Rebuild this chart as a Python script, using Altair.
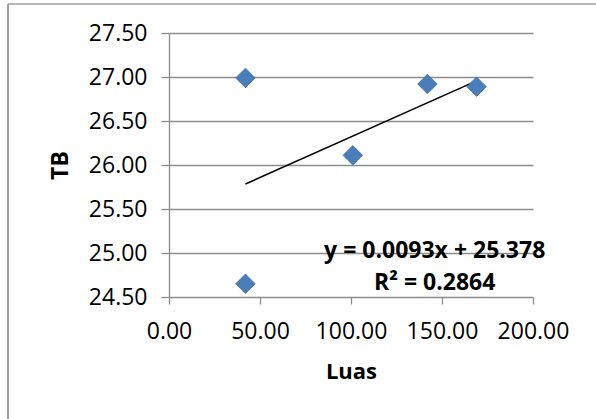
import altair as alt
import pandas as pd

# Data
luas = [42.0, 42.0, 101.0, 142.0, 169.0]
tb = [26.99, 24.65, 26.11, 26.92, 26.89]

x_ticks = [0, 50, 100, 150, 200]
y_ticks = [24.5, 25.0, 25.5, 26.0, 26.5, 27.0, 27.5]

eq_lines = ["y = 0.0093x + 25.378", "R² = 0.2864"]
eq_x = [146.0, 146.0]
eq_y = [25.02, 24.66]

FONT = "Open Sans"
GRID = "#8c8c8c"

df = pd.DataFrame({"Luas": luas, "TB": tb})
eq_df = pd.DataFrame({"label": eq_lines, "x": eq_x, "y": eq_y})

xscale = alt.Scale(domain=[0, 200], nice=False, zero=False)
yscale = alt.Scale(domain=[24.5, 27.5], nice=False, zero=False)

xaxis = alt.Axis(values=x_ticks, format=".2f", grid=False, domain=False,
                 tickColor=GRID, tickSize=7, tickWidth=1.3,
                 labelFont=FONT, labelFontSize=23, labelColor="black",
                 labelPadding=16, labelOverlap=False, labelBound=False,
                 labelFlush=False,
                 title="Luas", titleFont=FONT,
                 titleFontSize=22, titleFontWeight="bold", titleColor="black",
                 titlePadding=18)
yaxis = alt.Axis(values=y_ticks, format=".2f", grid=True, gridColor=GRID,
                 gridWidth=1.3, domainColor=GRID, domainWidth=1.3,
                 tickColor=GRID, tickSize=8, tickWidth=1.3,
                 labelFont=FONT, labelFontSize=23, labelColor="black",
                 labelPadding=14, labelOverlap=False, labelBound=False,
                 labelFlush=False,
                 title="TB", titleFont=FONT,
                 titleFontSize=23, titleFontWeight="bold", titleColor="black",
                 titlePadding=16)

base = alt.Chart(df)

points = base.mark_point(shape="diamond", filled=True, size=380,
                         color="#4a7ebb", stroke="#3f6fa8",
                         strokeWidth=0.8, opacity=1).encode(
    x=alt.X("Luas:Q", scale=xscale, axis=xaxis),
    y=alt.Y("TB:Q", scale=yscale, axis=yaxis),
)

trend = base.transform_regression("Luas", "TB").mark_line(
    color="black", strokeWidth=1.6).encode(
    x=alt.X("Luas:Q", scale=xscale),
    y=alt.Y("TB:Q", scale=yscale),
)

eq = alt.Chart(eq_df).mark_text(font=FONT, fontSize=23, fontWeight="bold",
                                color="black", align="center",
                                baseline="middle").encode(
    x=alt.X("x:Q", scale=xscale),
    y=alt.Y("y:Q", scale=yscale),
    text="label:N",
)

frame_data = alt.Data(values=[{"k": 1}])
left_frame = alt.Chart(frame_data).mark_rule(color="#a0a0a0", strokeWidth=2).encode(
    x=alt.value(-161), y=alt.value(-29), y2=alt.value(386))
top_frame = alt.Chart(frame_data).mark_rule(color="#a0a0a0", strokeWidth=1.5).encode(
    x=alt.value(-161), x2=alt.value(427), y=alt.value(-29))

chart = alt.layer(left_frame, top_frame, trend, points, eq).properties(
    width=364, height=264,
    autosize=alt.AutoSizeParams(type="none"),
    padding={"left": 169, "top": 33, "right": 63, "bottom": 122},
    background="white",
).configure_view(stroke=None)

chart.save("out.html", embed_options={"renderer": "svg", "actions": False})
